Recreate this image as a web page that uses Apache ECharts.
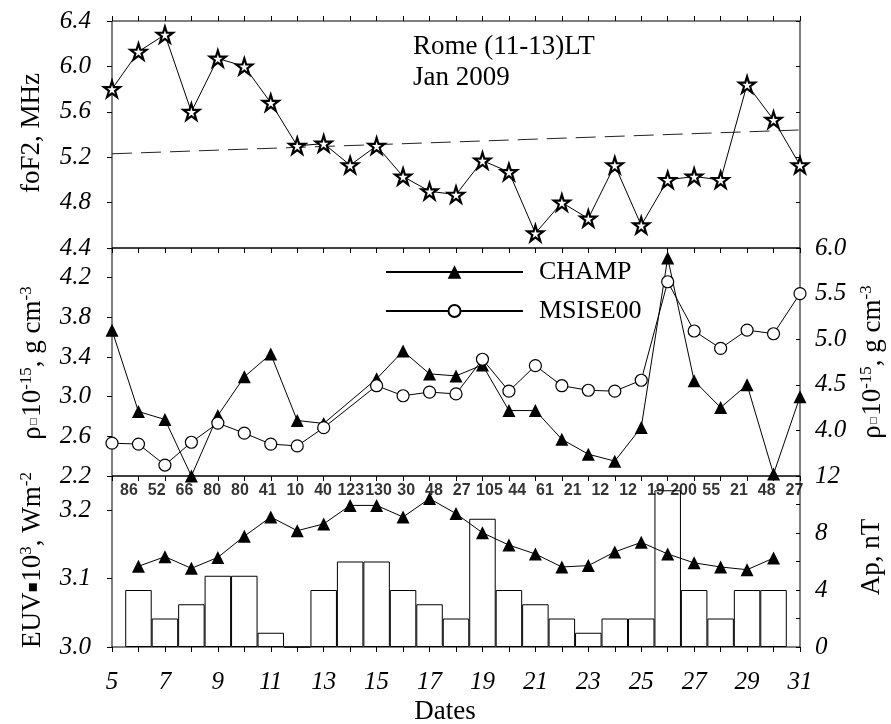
<!DOCTYPE html>
<html>
<head>
<meta charset="utf-8">
<script src="https://cdn.jsdelivr.net/npm/echarts@6/dist/echarts.min.js"></script>
<style>
  html, body { margin: 0; padding: 0; background: #fff; }
  #chart { width: 891px; height: 724px; }
</style>
</head>
<body>
<div id="chart"></div>
<script>
// Days of January 2009
const days = [5, 6, 7, 8, 9, 10, 11, 12, 13, 14, 15, 16, 17, 18, 19, 20, 21, 22, 23, 24, 25, 26, 27, 28, 29, 30, 31];

// foF2 at Rome, 11-13 LT (MHz)
const foF2 = [5.80, 6.13, 6.28, 5.60, 6.07, 6.00, 5.68, 5.30, 5.32, 5.13, 5.30, 5.03, 4.90, 4.87, 5.17, 5.07, 4.53, 4.80, 4.66, 5.13, 4.60, 5.00, 5.03, 5.00, 5.84, 5.53, 5.13];
// Linear trend of foF2 (end points)
const trendDays = [5, 31];
const trendFoF2 = [5.23, 5.44];

// Thermospheric density (10^-15 g cm^-3); no data on the 14th
const densityDays = [5, 6, 7, 8, 9, 10, 11, 12, 13, 15, 16, 17, 18, 19, 20, 21, 22, 23, 24, 25, 26, 27, 28, 29, 30, 31];
const champ = [3.67, 2.85, 2.77, 2.20, 2.81, 3.20, 3.43, 2.76, 2.73, 3.18, 3.46, 3.23, 3.21, 3.32, 2.86, 2.86, 2.57, 2.42, 2.35, 2.69, 4.40, 3.16, 2.89, 3.12, 2.22, 3.00];
const msise00 = [3.86, 3.85, 3.62, 3.87, 4.08, 3.97, 3.85, 3.83, 4.03, 4.49, 4.38, 4.42, 4.40, 4.78, 4.43, 4.71, 4.49, 4.44, 4.43, 4.55, 5.63, 5.09, 4.90, 5.10, 5.06, 5.50];

// Solar EUV (10^-3 W m^-2) and Ap index (nT)
const solarDays = [6, 7, 8, 9, 10, 11, 12, 13, 14, 15, 16, 17, 18, 19, 20, 21, 22, 23, 24, 25, 26, 27, 28, 29, 30];
const euv = [3.118, 3.132, 3.115, 3.131, 3.162, 3.190, 3.170, 3.180, 3.207, 3.207, 3.190, 3.217, 3.195, 3.167, 3.149, 3.136, 3.117, 3.119, 3.139, 3.153, 3.136, 3.123, 3.117, 3.113, 3.130];
const ap = [4, 2, 3, 5, 5, 1, 0, 4, 6, 6, 4, 3, 2, 9, 4, 3, 2, 1, 2, 2, 11, 4, 2, 4, 4];

// Daily numbers printed along the top of the lower panel
const dailyNumbers = ['86', '52', '66', '80', '80', '41', '10', '40', '123', '130', '30', '48', '27', '105', '44', '61', '21', '12', '12', '19', '200', '55', '21', '48', '27'];

// Tick values
const champTicks = [2.2, 2.6, 3.0, 3.4, 3.8, 4.2];
const euvTicks = [3.0, 3.1, 3.2];
const apLabelTicks = [0, 4, 8, 12];

const SERIF = "'Liberation Serif', 'Times New Roman', serif";
const SANS = "'Liberation Sans', Arial, sans-serif";
const STAR = 'path://M50,2 L61.2,36.5 L97.5,36.5 L68.2,57.9 L79.4,92.4 L50,71.1 L20.6,92.4 L31.8,57.9 L2.5,36.5 L38.8,36.5 Z';

const tickLabel = { color: '#000', fontFamily: SERIF, fontStyle: 'italic', fontSize: 25 };
const fmt1 = v => v.toFixed(1);
const noLine = { show: false, onZero: false };

function xAxisFor(grid, position, inside, extra) {
  return Object.assign({
    type: 'value', gridIndex: grid, position: position, min: 5, max: 31, interval: 1,
    axisLine: noLine,
    axisTick: { show: true, inside: inside, length: 5, lineStyle: { color: '#000', width: 1 } },
    axisLabel: { show: false },
    splitLine: { show: false }
  }, extra || {});
}

const chart = echarts.init(document.getElementById('chart'), null, { renderer: 'canvas' });

const gridBox = { show: true, borderColor: '#000', borderWidth: 1, backgroundColor: 'transparent', left: 112, right: 91 };

const legendText = { color: '#000', fontFamily: SERIF, fontSize: 26, lineHeight: 30, padding: [0, 0, 0, 11] };

const option = {
  animation: false,
  backgroundColor: '#fff',
  grid: [
    Object.assign({ top: 21, height: 227 }, gridBox),
    Object.assign({ top: 248, height: 228 }, gridBox),
    Object.assign({ top: 476, height: 171 }, gridBox)
  ],
  xAxis: [
    xAxisFor(0, 'top', false),
    xAxisFor(1, 'top', true),
    xAxisFor(1, 'bottom', false),
    xAxisFor(2, 'bottom', false, {
      axisLabel: {
        show: true, margin: 23, color: '#000', fontFamily: SERIF, fontStyle: 'italic', fontSize: 25,
        formatter: v => (v % 2 === 1 ? String(v) : '')
      }
    }),
    // index axis for the row of daily numbers
    { type: 'value', gridIndex: 2, position: 'top', min: -0.613, max: 24.2, show: false, axisLine: noLine }
  ],
  yAxis: [
    {
      type: 'value', gridIndex: 0, position: 'left', min: 4.4, max: 6.4, interval: 0.4,
      axisLine: noLine, splitLine: { show: false },
      axisTick: { inside: false, length: 5, lineStyle: { color: '#000' } },
      axisLabel: Object.assign({ margin: 21, formatter: fmt1 }, tickLabel)
    },
    {
      type: 'value', gridIndex: 0, position: 'right', min: 4.4, max: 6.4, interval: 0.4,
      axisLine: noLine, splitLine: { show: false },
      axisTick: { inside: true, length: 4, lineStyle: { color: '#000' } },
      axisLabel: { show: false }
    },
    {
      type: 'value', gridIndex: 1, position: 'left', min: 2.2, max: 4.5,
      axisLine: noLine, splitLine: { show: false },
      axisTick: { inside: false, length: 5, customValues: champTicks, lineStyle: { color: '#000' } },
      axisLabel: Object.assign({ margin: 21, customValues: champTicks, formatter: fmt1 }, tickLabel)
    },
    {
      type: 'value', gridIndex: 1, position: 'right', min: 3.5, max: 6.0, interval: 0.5,
      axisLine: noLine, splitLine: { show: false },
      axisTick: { inside: true, length: 4, lineStyle: { color: '#000' } },
      axisLabel: Object.assign({ margin: 15, showMinLabel: false, formatter: fmt1 }, tickLabel)
    },
    {
      type: 'value', gridIndex: 2, position: 'left', min: 3.0, max: 3.25,
      axisLine: noLine, splitLine: { show: false },
      axisTick: { inside: false, length: 5, customValues: euvTicks, lineStyle: { color: '#000' } },
      axisLabel: Object.assign({ margin: 21, customValues: euvTicks, formatter: fmt1 }, tickLabel)
    },
    {
      type: 'value', gridIndex: 2, position: 'right', min: 0, max: 12, interval: 2,
      axisLine: noLine, splitLine: { show: false },
      axisTick: { inside: true, length: 4, lineStyle: { color: '#000' } },
      axisLabel: Object.assign({ margin: 15, customValues: apLabelTicks }, tickLabel)
    }
  ],
  legend: [
    {
      data: ['CHAMP'], left: 385, top: 257, orient: 'vertical', padding: 0,
      itemWidth: 137, itemHeight: 17, selectedMode: false, textStyle: legendText
    },
    {
      data: ['MSISE00'], left: 385, top: 296, orient: 'vertical', padding: 0,
      itemWidth: 137, itemHeight: 15, selectedMode: false, textStyle: legendText
    }
  ],
  series: [
    {
      name: 'trend', type: 'line', xAxisIndex: 0, yAxisIndex: 0,
      data: trendDays.map((d, i) => [d, trendFoF2[i]]),
      symbol: 'none', lineStyle: { color: '#222', width: 1, type: [20, 9] }, z: 1
    },
    {
      name: 'foF2', type: 'line', xAxisIndex: 0, yAxisIndex: 0,
      data: days.map((d, i) => [d, foF2[i]]),
      symbol: STAR, symbolSize: 16,
      lineStyle: { color: '#000', width: 1 },
      itemStyle: { color: '#fff', borderColor: '#000', borderWidth: 2.2 }, z: 3
    },
    {
      name: 'CHAMP', type: 'line', xAxisIndex: 1, yAxisIndex: 2,
      data: densityDays.map((d, i) => [d, champ[i]]),
      symbol: 'triangle', symbolSize: 13,
      lineStyle: { color: '#000', width: 1 },
      itemStyle: { color: '#000' }, z: 3
    },
    {
      name: 'MSISE00', type: 'line', xAxisIndex: 1, yAxisIndex: 3,
      data: densityDays.map((d, i) => [d, msise00[i]]),
      symbol: 'circle', symbolSize: 12,
      lineStyle: { color: '#000', width: 1 },
      itemStyle: { color: '#fff', borderColor: '#000', borderWidth: 1.2 }, z: 3
    },
    {
      name: 'Ap', type: 'bar', xAxisIndex: 3, yAxisIndex: 5,
      data: solarDays.map((d, i) => [d, ap[i]]),
      barWidth: 26.5,
      itemStyle: { color: '#fff', borderColor: '#000', borderWidth: 1 }, z: 2
    },
    {
      name: 'EUV', type: 'line', xAxisIndex: 3, yAxisIndex: 4,
      data: solarDays.map((d, i) => [d, euv[i]]),
      symbol: 'triangle', symbolSize: 13,
      lineStyle: { color: '#000', width: 1 },
      itemStyle: { color: '#000' }, z: 4
    },
    {
      name: 'numbers', type: 'scatter', xAxisIndex: 4, yAxisIndex: 5,
      data: dailyNumbers.map((n, i) => [i, 11]),
      symbolSize: 0, silent: true, z: 5,
      label: {
        show: true, position: 'inside', color: '#000', fontFamily: SANS, fontWeight: 'bold', fontSize: 16,
        formatter: p => dailyNumbers[p.dataIndex]
      }
    }
  ],
  graphic: [
    { type: 'text', left: 413, top: 33, style: { text: 'Rome (11-13)LT', fill: '#000', font: '27px ' + SERIF } },
    { type: 'text', left: 413, top: 64, style: { text: 'Jan 2009', fill: '#000', font: '27px ' + SERIF } },
    { type: 'text', x: 445, y: 712, style: { text: 'Dates', fill: '#000', font: '27px ' + SERIF, align: 'center', verticalAlign: 'middle' } },
    {
      type: 'text', x: 32, y: 133, rotation: Math.PI / 2,
      style: { text: 'foF2, MHz', fill: '#000', font: '27px ' + SERIF, align: 'center', verticalAlign: 'middle' }
    },
    {
      type: 'text', x: 33, y: 363, rotation: Math.PI / 2,
      style: {
        text: '{n|ρ}{b|▫}{n|10}{s|-15}{n|, g cm}{s|-3}', align: 'center', verticalAlign: 'middle',
        rich: {
          n: { fill: '#000', fontFamily: SERIF, fontSize: 27, lineHeight: 30 },
          s: { fill: '#000', fontFamily: SERIF, fontSize: 17, verticalAlign: 'top', lineHeight: 30 },
          b: { fill: '#666', fontFamily: "'DejaVu Sans'", fontSize: 14, lineHeight: 30 }
        }
      }
    },
    {
      type: 'text', x: 873, y: 362, rotation: Math.PI / 2,
      style: {
        text: '{n|ρ}{b|▫}{n|10}{s|-15}{n|, g cm}{s|-3}', align: 'center', verticalAlign: 'middle',
        rich: {
          n: { fill: '#000', fontFamily: SERIF, fontSize: 27, lineHeight: 30 },
          s: { fill: '#000', fontFamily: SERIF, fontSize: 17, verticalAlign: 'top', lineHeight: 30 },
          b: { fill: '#666', fontFamily: "'DejaVu Sans'", fontSize: 14, lineHeight: 30 }
        }
      }
    },
    {
      type: 'text', x: 33, y: 560, rotation: Math.PI / 2,
      style: {
        text: '{n|EUV}{b|▪}{n|10}{s|3}{n|, Wm}{s|-2}', align: 'center', verticalAlign: 'middle',
        rich: {
          n: { fill: '#000', fontFamily: SERIF, fontSize: 27, lineHeight: 30 },
          s: { fill: '#000', fontFamily: SERIF, fontSize: 17, verticalAlign: 'top', lineHeight: 30 },
          b: { fill: '#000', fontFamily: "'DejaVu Sans'", fontSize: 16, lineHeight: 30 }
        }
      }
    },
    {
      type: 'text', x: 872, y: 557, rotation: Math.PI / 2,
      style: { text: 'Ap, nT', fill: '#000', font: '27px ' + SERIF, align: 'center', verticalAlign: 'middle' }
    }
  ]
};

chart.setOption(option);
</script>
</body>
</html>
